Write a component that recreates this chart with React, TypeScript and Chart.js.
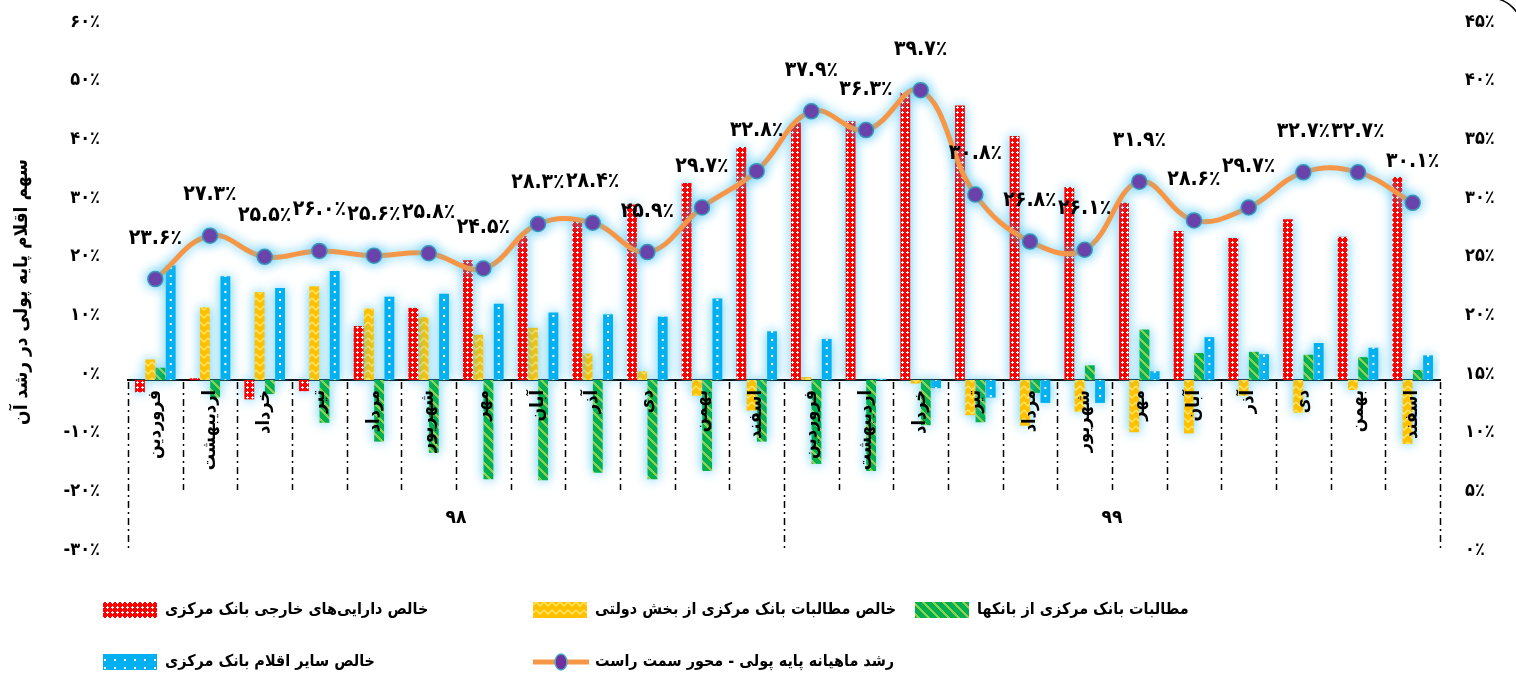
import React, { useEffect, useRef } from 'react';
import { Chart, registerables } from 'chart.js';

Chart.register(...registerables);

const FONT = "'DejaVu Sans Condensed', 'DejaVu Sans', sans-serif";

const months = ['فروردین', 'اردیبهشت', 'خرداد', 'تیر', 'مرداد', 'شهریور', 'مهر', 'آبان', 'آذر', 'دی', 'بهمن', 'اسفند'];
const categories = [...months, ...months];
const yearLabels = ['۹۸', '۹۹'];

// series values, percent
const foreignAssets = [-2.1, 0.3, -3.3, -1.9, 9.2, 12.3, 20.4, 24.5, 27.5, 29.9, 33.6, 39.7, 43.9, 44.1, 49.0, 46.8, 41.6, 32.9, 30.2, 25.4, 24.2, 27.4, 24.4, 34.6];
const govClaims = [3.5, 12.4, 15.0, 16.0, 12.2, 10.7, 7.7, 8.9, 4.5, 1.5, -2.7, -5.2, 0.5, 0, -0.6, -6.0, -7.8, -5.4, -8.9, -9.1, -2.7, -5.6, -1.7, -10.9];
const bankClaims = [2.1, -3.0, -2.4, -7.3, -10.5, -12.4, -16.9, -17.1, -15.8, -16.9, -15.5, -10.5, -14.3, -15.5, -7.7, -7.2, -2.2, 2.5, 8.6, 4.6, 4.8, 4.3, 3.9, 1.7];
const otherItems = [19.5, 17.7, 15.7, 18.6, 14.2, 14.7, 13.0, 11.5, 11.2, 10.8, 13.9, 8.3, 7.0, 0.2, -1.4, -3.0, -3.9, -3.9, 1.5, 7.3, 4.4, 6.3, 5.5, 4.2];
const baseGrowth = [23.6, 27.3, 25.5, 26.0, 25.6, 25.8, 24.5, 28.3, 28.4, 25.9, 29.7, 32.8, 37.9, 36.3, 39.7, 30.8, 26.8, 26.1, 31.9, 28.6, 29.7, 32.7, 32.7, 30.1];

const seriesNames = [
  'خالص دارایی‌های خارجی بانک مرکزی',
  'خالص مطالبات بانک مرکزی از بخش دولتی',
  'مطالبات بانک مرکزی از بانکها',
  'خالص سایر اقلام بانک مرکزی',
  'رشد ماهیانه پایه پولی - محور سمت راست',
];
const leftTitle = 'سهم اقلام پایه پولی در رشد آن';

const faDigits = '۰۱۲۳۴۵۶۷۸۹';
const toFa = (s: string) => s.replace(/[0-9]/g, (d) => faDigits[+d]);

const CAT_PCT = 0.75;
const BAR_PCT = 0.96;

function tile(w: number, h: number, draw: (c: CanvasRenderingContext2D) => void) {
  const c = document.createElement('canvas');
  c.width = w;
  c.height = h;
  draw(c.getContext('2d')!);
  return c;
}

export default function App() {
  const ref = useRef<HTMLCanvasElement>(null);

  useEffect(() => {
    const canvas = ref.current!;
    const ctx0 = canvas.getContext('2d')!;

    const redTile = tile(5, 5, (c) => {
      c.fillStyle = '#FF0000';
      c.fillRect(0, 0, 5, 5);
      c.fillStyle = '#FFFFFF';
      c.fillRect(2, 1, 1, 3);
      c.fillRect(1, 2, 3, 1);
    });
    const yellowTile = tile(8, 8, (c) => {
      c.fillStyle = '#FFC000';
      c.fillRect(0, 0, 8, 8);
      c.strokeStyle = '#FFE866';
      c.lineWidth = 1.5;
      c.beginPath();
      c.moveTo(0, 2);
      c.lineTo(4, 6);
      c.lineTo(8, 2);
      c.stroke();
    });
    const greenTile = tile(10, 10, (c) => {
      c.fillStyle = '#00B050';
      c.fillRect(0, 0, 10, 10);
      c.fillStyle = '#92D050';
      for (let x = 0; x < 10; x++) for (let y = 0; y < 10; y++) if ((x - y + 100) % 10 < 3) c.fillRect(x, y, 1, 1);
    });
    const blueTile = tile(10, 8, (c) => {
      c.fillStyle = '#00B0F0';
      c.fillRect(0, 0, 10, 8);
      c.fillStyle = '#FFFFFF';
      c.fillRect(4, 3, 2, 2);
    });
    const redPat = ctx0.createPattern(redTile, 'repeat')!;
    const yellowPat = ctx0.createPattern(yellowTile, 'repeat')!;
    const greenPat = ctx0.createPattern(greenTile, 'repeat')!;
    const bluePat = ctx0.createPattern(blueTile, 'repeat')!;

    const blueFor = (c: any) => {
      if (c.type !== 'data' || !c.chart.scales || !c.chart.scales.x) return bluePat;
      const xs = c.chart.scales.x;
      const cw = (xs.right - xs.left) / categories.length;
      const group = cw * CAT_PCT;
      const bw = group / 4;
      const center = xs.getPixelForValue(c.dataIndex);
      const mid = center - group / 2 + 3.5 * bw;
      const p = c.chart.ctx.createPattern(blueTile, 'repeat');
      p.setTransform(new DOMMatrix([1, 0, 0, 1, mid - 5, 0]));
      return p;
    };

    const glow = {
      id: 'glow',
      beforeDatasetDraw(chart: any) {
        const c = chart.ctx;
        c.save();
        c.shadowColor = 'rgba(70,195,245,0.9)';
        c.shadowBlur = 12;
      },
      afterDatasetDraw(chart: any) {
        chart.ctx.restore();
      },
    };

    const extras = {
      id: 'extras',
      afterDatasetsDraw(chart: any) {
        const c = chart.ctx;
        const xs = chart.scales.x;
        const ys = chart.scales.y;
        const y0 = ys.getPixelForValue(0);
        const n = categories.length;
        const cw = (xs.right - xs.left) / n;

        // line value labels
        const lineMeta = chart.getDatasetMeta(0);
        c.save();
        c.fillStyle = '#000';
        c.font = `bold 21px ${FONT}`;
        c.textAlign = 'center';
        c.textBaseline = 'middle';
        lineMeta.data.forEach((pt: any, i: number) => {
          c.fillText(toFa(baseGrowth[i].toFixed(1)) + '٪', pt.x, pt.y - 41);
        });
        c.restore();

        // category separators
        c.save();
        c.strokeStyle = '#000';
        c.lineWidth = 1.5;
        c.setLineDash([7, 4, 2, 4]);
        for (let k = 0; k <= n; k++) {
          const x = Math.round(xs.left + k * cw) + 0.5;
          const isYear = k % 12 === 0;
          c.beginPath();
          c.moveTo(x, y0 + 2);
          c.lineTo(x, isYear ? chart.chartArea.bottom - 6 : y0 + 110);
          c.stroke();
        }
        c.restore();

        // year labels
        c.save();
        c.fillStyle = '#000';
        c.font = `bold 19px ${FONT}`;
        c.textAlign = 'center';
        c.textBaseline = 'middle';
        yearLabels.forEach((t, g) => {
          const xm = (xs.getPixelForValue(g * 12) + xs.getPixelForValue(g * 12 + 11)) / 2;
          c.fillText(t, xm, y0 + 138);
        });
        c.restore();
      },
      afterDraw(chart: any) {
        const c = chart.ctx;
        // legend
        const cols = [103, 533, 915];
        const rows = [610, 662];
        const items = [
          { col: 0, row: 0, fill: redPat, text: seriesNames[0] },
          { col: 1, row: 0, fill: yellowPat, text: seriesNames[1] },
          { col: 2, row: 0, fill: greenPat, text: seriesNames[2] },
          { col: 0, row: 1, fill: bluePat, text: seriesNames[3] },
          { col: 1, row: 1, fill: null, text: seriesNames[4] },
        ];
        c.save();
        items.forEach((it) => {
          const x = cols[it.col];
          const y = rows[it.row];
          if (it.fill) {
            c.fillStyle = it.fill;
            c.fillRect(x, y - 8, 54, 16);
          } else {
            c.strokeStyle = '#F79646';
            c.lineWidth = 5;
            c.beginPath();
            c.moveTo(x, y);
            c.lineTo(x + 56, y);
            c.stroke();
            c.beginPath();
            c.ellipse(x + 28, y, 6, 8, 0, 0, Math.PI * 2);
            c.fillStyle = '#7030A0';
            c.fill();
            c.strokeStyle = '#4BACC6';
            c.lineWidth = 1.5;
            c.stroke();
          }
          c.fillStyle = '#000';
          c.font = `bold 16px ${FONT}`;
          c.textAlign = 'left';
          c.textBaseline = 'middle';
          c.fillText(it.text, x + 62, y);
        });
        // rounded border corner at top-right
        c.strokeStyle = '#000';
        c.lineWidth = 1.5;
        c.beginPath();
        c.arc(1490, 30, 32, -Math.PI / 2, 0);
        c.stroke();
        c.restore();
      },
    };

    const tickFont = { family: FONT, size: 18, weight: 'bold' as const };

    const chart = new Chart(canvas, {
      type: 'bar',
      data: {
        labels: categories,
        datasets: [
          {
            type: 'line',
            label: seriesNames[4],
            data: baseGrowth,
            yAxisID: 'y1',
            order: 0,
            borderColor: '#F79646',
            borderWidth: 5,
            tension: 0.4,
            pointRadius: 7.5,
            pointBackgroundColor: '#7030A0',
            pointBorderColor: '#3A96B8',
            pointBorderWidth: 1.5,
          } as any,
          { label: seriesNames[0], data: foreignAssets, yAxisID: 'y', order: 1, backgroundColor: redPat, barPercentage: BAR_PCT, categoryPercentage: CAT_PCT },
          { label: seriesNames[1], data: govClaims, yAxisID: 'y', order: 1, backgroundColor: yellowPat, barPercentage: BAR_PCT, categoryPercentage: CAT_PCT },
          { label: seriesNames[2], data: bankClaims, yAxisID: 'y', order: 1, backgroundColor: greenPat, barPercentage: BAR_PCT, categoryPercentage: CAT_PCT },
          { label: seriesNames[3], data: otherItems, yAxisID: 'y', order: 1, backgroundColor: blueFor as any, barPercentage: BAR_PCT, categoryPercentage: CAT_PCT },
        ],
      },
      options: {
        animation: false,
        responsive: true,
        maintainAspectRatio: false,
        layout: { padding: { top: 28, bottom: 122, left: 0, right: 0 } },
        plugins: { legend: { display: false }, tooltip: { enabled: false } },
        scales: {
          x: {
            position: { y: 0 } as any,
            offset: true,
            grid: { display: false, drawTicks: false },
            border: { display: true, color: '#000', width: 2, dash: [8, 5] },
            ticks: { z: 1, minRotation: 90, maxRotation: 90, autoSkip: false, padding: 10, color: '#000', font: { family: FONT, size: 18, weight: 'bold' } },
          },
          y: {
            position: 'left',
            min: -30,
            max: 60,
            grid: { display: false, drawTicks: false },
            border: { display: false },
            ticks: { stepSize: 10, padding: 28, labelOffset: -6, color: '#000', font: tickFont, callback: (v: any) => toFa(String(Math.round(v))) + '٪' },
            title: { display: true, text: leftTitle, color: '#000', font: { family: FONT, size: 19, weight: 'bold' }, padding: { top: 11, bottom: 0 } },
            afterFit: (s: any) => {
              s.width = 128;
              s.paddingTop = 0;
              s.paddingBottom = 0;
            },
          },
          y1: {
            position: 'right',
            min: 0,
            max: 45,
            grid: { display: false, drawTicks: false },
            border: { display: false },
            ticks: { stepSize: 5, padding: 25, labelOffset: -6, color: '#000', font: tickFont, callback: (v: any) => toFa(String(Math.round(v))) + '٪' },
            afterFit: (s: any) => {
              s.width = 76;
              s.paddingTop = 0;
              s.paddingBottom = 0;
            },
          },
        },
      },
      plugins: [glow, extras],
    });

    return () => chart.destroy();
  }, []);

  return (
    <div style={{ position: 'fixed', left: 0, top: 0, width: '100vw', height: '100vh', background: '#fff' }}>
      <canvas ref={ref} />
    </div>
  );
}
